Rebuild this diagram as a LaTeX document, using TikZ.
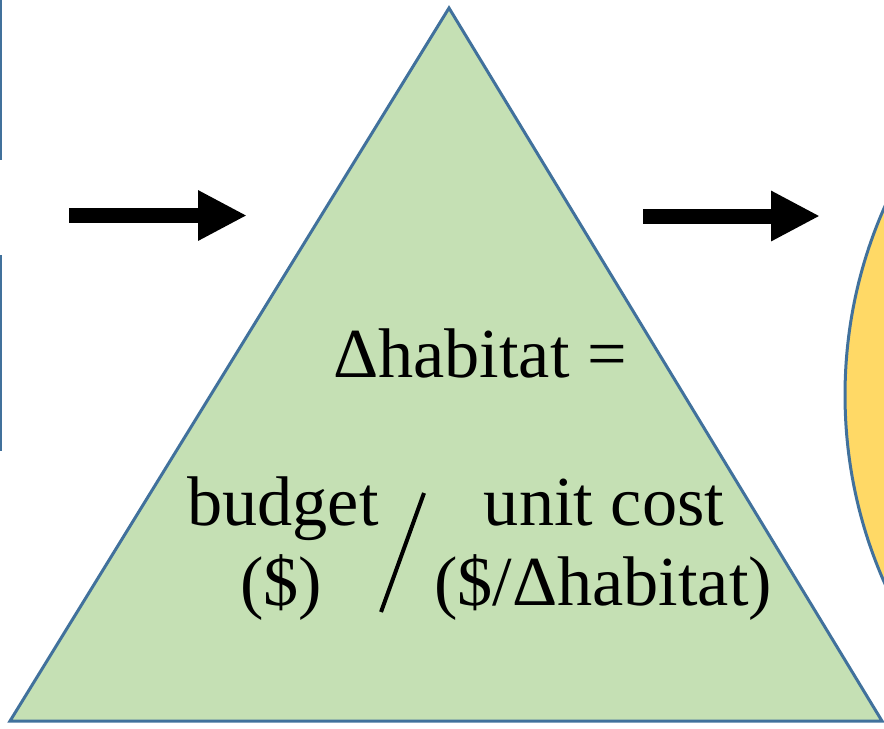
\documentclass[tikz,border=0pt]{standalone}
\usepackage{fontspec}
\setmainfont{Liberation Serif}
\usetikzlibrary{arrows.meta}
\definecolor{edgeblue}{RGB}{65,113,156}
\definecolor{leafgreen}{RGB}{197,224,180}
\definecolor{sunyellow}{RGB}{255,217,102}
\tikzset{
  label/.style={anchor=base, inner sep=0pt, font=\fontsize{40}{46}\selectfont},
  bigarrow/.style={line width=15*0.02cm, -{Triangle[length=0.98cm,width=0.94cm]}}
}
\begin{document}
\begin{tikzpicture}[x=0.02cm, y=-0.02cm]
  \useasboundingbox (0,0) rectangle (884,728);
  \clip (0,0) rectangle (884,728);
  % Bord des formes coupees a gauche
  \draw[edgeblue, line width=3*0.02cm] (0,0) -- (0,160);
  \draw[edgeblue, line width=3*0.02cm] (0,255) -- (0,451);
  % Cercle jaune a droite
  \draw[edgeblue, fill=sunyellow, line width=3*0.02cm] (1310,395) circle (465);
  % Triangle vert
  \coordinate (apex) at (449,8);
  \coordinate (baseL) at (10,721);
  \coordinate (baseR) at (882,721);
  \draw[edgeblue, fill=leafgreen, line width=3*0.02cm, line join=miter] (apex) -- (baseR) -- (baseL) -- cycle;
  % Fleches
  \coordinate (inA) at (69,215.5);
  \coordinate (inB) at (247,215.5);
  \coordinate (outA) at (643,216);
  \coordinate (outB) at (820,216);
  \draw[bigarrow] (inA) -- (inB);
  \draw[bigarrow] (outA) -- (outB);
  % Textes
  \node[label] (delta) at (480,377) {Δhabitat =};
  \node[label] (budget) at (283,525) {budget};
  \node[label] (dollar) at (281,605) {(\$)};
  \node[label] (cost) at (604,525) {unit cost};
  \node[label] (costunit) at (603,605) {(\$/Δhabitat)};
  \coordinate (slashB) at (381,612);
  \coordinate (slashT) at (424,493);
  \draw[line width=4*0.02cm] (slashB) -- (slashT);
\end{tikzpicture}
\end{document}
